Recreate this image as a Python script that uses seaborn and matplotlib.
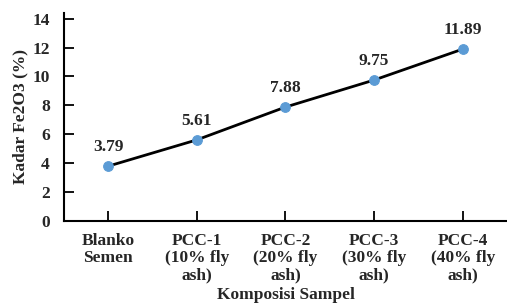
import numpy as np
import pandas as pd
import matplotlib
matplotlib.use("Agg")
import matplotlib.pyplot as plt
import seaborn as sns

# data
categories = ["Blanko\nSemen", "PCC-1\n(10% fly\nash)", "PCC-2\n(20% fly\nash)",
              "PCC-3\n(30% fly\nash)", "PCC-4\n(40% fly\nash)"]
kadar_fe2o3 = [3.79, 5.61, 7.88, 9.75, 11.89]
y_ticks = [0, 2, 4, 6, 8, 10, 12, 14]

df = pd.DataFrame({"komposisi": categories, "kadar": kadar_fe2o3})

sns.set_style("ticks")
plt.rcParams["font.family"] = ["Liberation Serif", "DejaVu Serif"]
plt.rcParams["font.weight"] = "bold"

FS = 12.5

fig = plt.figure(figsize=(5.07, 3.06), dpi=100)
ax = fig.add_axes([0.126, 0.278, 0.874, 0.68])

sns.lineplot(
    data=df, x="komposisi", y="kadar", sort=False, ax=ax,
    color="black", linewidth=2.0,
    marker="o", markersize=7, markerfacecolor="#5B9BD5", markeredgecolor="#5B9BD5",
)

# value labels
for i, v in enumerate(kadar_fe2o3):
    ax.annotate(f"{v:.2f}", (i, v), xytext=(0, 8), textcoords="offset points",
                ha="center", va="bottom", fontsize=FS, fontweight="bold")

ax.set_xlim(-0.5, len(categories) - 0.5)
ax.set_ylim(0, 14.4)
ax.set_yticks(y_ticks)
ax.set_xticks(range(len(categories)))
ax.set_xticklabels(categories, fontsize=FS, fontweight="bold", linespacing=1.07)
ax.set_yticklabels([str(t) for t in y_ticks], fontsize=FS, fontweight="bold")

ax.tick_params(axis="both", direction="in", length=7, width=1.3, color="black")
ax.tick_params(axis="x", pad=9)
ax.tick_params(axis="y", pad=10)

ax.set_xlabel("Komposisi Sampel", fontsize=FS, fontweight="bold", labelpad=3)
ax.set_ylabel("Kadar Fe2O3 (%)", fontsize=FS, fontweight="bold", labelpad=3)

sns.despine(ax=ax)
for s in ["left", "bottom"]:
    ax.spines[s].set_linewidth(1.5)
    ax.spines[s].set_color("black")

fig.savefig("out.png", dpi=100, facecolor="white")
